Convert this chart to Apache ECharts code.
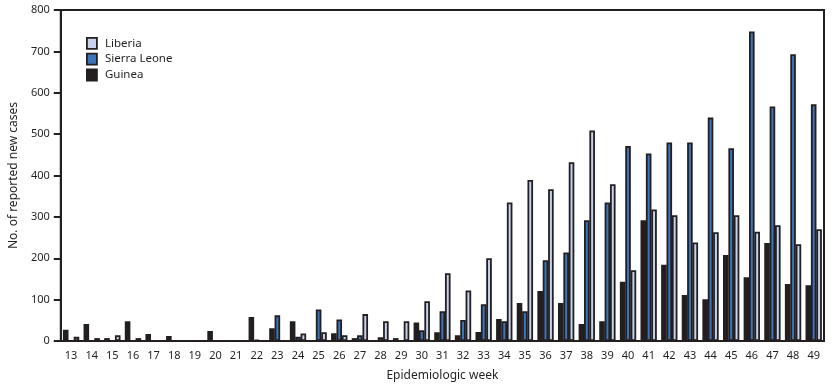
<!DOCTYPE html>
<html>
<head>
<meta charset="utf-8">
<script src="https://cdn.jsdelivr.net/npm/echarts@6/dist/echarts.min.js"></script>
<style>html,body{margin:0;padding:0;background:#fff}#c{width:834px;height:387px}</style>
</head>
<body>
<div id="c"></div>
<script>
const weeks = ['13','14','15','16','17','18','19','20','21','22','23','24','25','26','27','28','29','30','31','32','33','34','35','36','37','38','39','40','41','42','43','44','45','46','47','48','49'];
const guinea = [27,41,7,48,17,12,0,24,0,58,31,48,0,19,7,0,7,45,21,14,22,53,92,121,92,41,48,143,292,184,111,101,208,154,237,138,135];
const sierraLeone = [0,0,0,0,0,0,0,0,0,3,62,10,76,52,14,9,0,26,72,51,89,48,72,195,214,292,335,471,453,480,480,540,466,748,567,693,572];
const liberia = [10,7,14,7,0,0,0,0,0,0,0,18,21,14,65,48,48,96,164,122,200,335,389,367,432,509,379,171,318,304,238,263,304,264,280,234,270];
const yTicks = {min:0, max:800, interval:100};

const INK = '#231f20';
const FONT = 'Noto Sans';
const chart = echarts.init(document.getElementById('c'), null, {renderer:'canvas'});
function bar(name, data, color){
  return {name, type:'bar', data, barWidth:5.6, barGap:'-4%',
    itemStyle:{color, borderColor:INK, borderWidth:1.8}, emphasis:{disabled:true}};
}
chart.setOption({
  animation:false,
  textStyle:{fontFamily:FONT, color:INK},
  grid:{left:57, right:10, top:10, bottom:46, show:true, borderColor:INK, borderWidth:2, backgroundColor:'transparent'},
  legend:{
    data:['Liberia','Sierra Leone','Guinea'], orient:'vertical', left:86, top:37, padding:0,
    itemWidth:10, itemHeight:11, itemGap:3, icon:'rect',
    textStyle:{fontFamily:FONT, fontSize:11.5, lineHeight:11, color:INK, padding:[0,0,0,3]},
    itemStyle:{borderColor:INK, borderWidth:1.8}
  },
  xAxis:{
    type:'category', data:weeks, boundaryGap:true,
    name:'Epidemiologic week', nameLocation:'middle', nameGap:29,
    nameTextStyle:{fontFamily:FONT, fontSize:12, color:INK},
    axisLine:{lineStyle:{color:INK, width:2}},
    axisTick:{alignWithLabel:true, length:6, lineStyle:{color:INK, width:2}},
    axisLabel:{fontFamily:FONT, fontSize:11, color:INK, margin:9, interval:0}
  },
  yAxis:{
    type:'value', min:yTicks.min, max:yTicks.max, interval:yTicks.interval,
    name:'No. of reported new cases', nameLocation:'middle', nameGap:39,
    nameTextStyle:{fontFamily:FONT, fontSize:12, color:INK},
    axisLine:{show:true, lineStyle:{color:INK, width:2}},
    axisTick:{show:true, length:7, lineStyle:{color:INK, width:2}},
    axisLabel:{fontFamily:FONT, fontSize:11, color:INK, margin:11},
    splitLine:{show:false}
  },
  series:[
    bar('Guinea', guinea, INK),
    bar('Sierra Leone', sierraLeone, '#3e74b8'),
    bar('Liberia', liberia, '#c6d3ea')
  ]
});
</script>
</body>
</html>
